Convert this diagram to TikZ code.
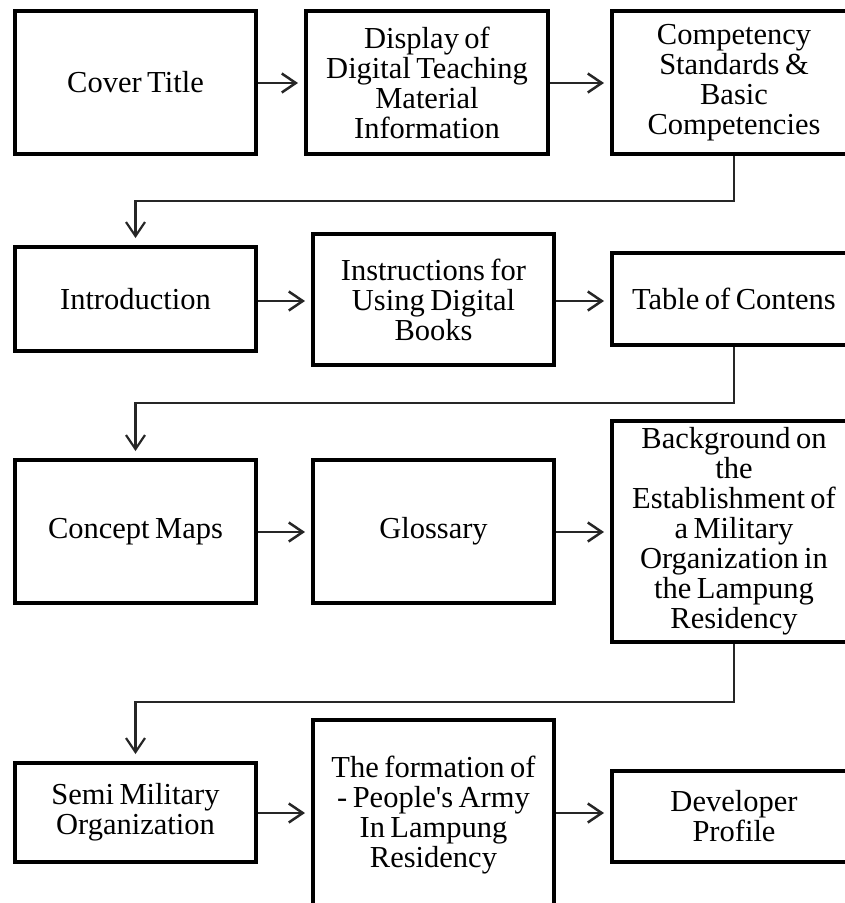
\documentclass[tikz,border=0pt]{standalone}
\usepackage{fontspec}
\setmainfont{Liberation Serif}
\newfontfamily\noligfont{Liberation Serif}
\usetikzlibrary{arrows.meta}
\newcommand\myboxfont{\fontsize{30.5}{30}\selectfont\spaceskip=0.18em plus 0.05em minus 0.05em\relax}
\begin{document}
\begin{tikzpicture}[x=1pt,y=-1pt,
  box/.style={draw=black, line width=4pt, fill=white, inner sep=0pt, align=center,
    font=\myboxfont},
  arr/.style={draw=black!85, line width=2.5pt, -{Straight Barb[length=14pt,width=19pt,line width=2.5pt]}, shorten >=6pt},
  elb/.style={draw=black!85, line width=2.2pt, -{Straight Barb[length=14pt,width=19pt,line width=2.2pt]}, shorten >=7pt}]
\useasboundingbox (0,0) rectangle (845,903);
% row 1
\node[box, minimum width=241pt, minimum height=143pt] (b1) at (135.5,82.5) {Cover Title};
\node[box, minimum width=242pt, minimum height=143pt] (b2) at (427,82.5) {Display of\\Digital Teaching\\Material\\Information};
\node[box, minimum width=244pt, minimum height=143pt] (b3) at (734,82.5) {Competency\\Standards \&\\Basic\\Competencies};
% row 2
\node[box, minimum width=241pt, minimum height=104pt] (b4) at (135.5,299) {Introduction};
\node[box, minimum width=241pt, minimum height=131pt] (b5) at (433.5,299.5) {Instructions for\\Using Digital\\Books};
\node[box, minimum width=244pt, minimum height=92pt] (b6) at (734,299) {Table of Contens};
% row 3
\node[box, minimum width=241pt, minimum height=143pt] (b7) at (135.5,531.5) {Concept Maps};
\node[box, minimum width=241pt, minimum height=143pt] (b8) at (433.5,531.5) {Glossary};
\node[box, minimum width=244pt, minimum height=221pt] (b9) at (734,531.5) {Background on\\the\\Establishment of\\a Military\\Organization in\\the Lampung\\Residency};
% row 4
\node[box, minimum width=241pt, minimum height=99pt] (b10) at (135.5,812.5) {Semi Military\\Organization};
\node[box, minimum width=241pt, minimum height=190pt] (b11) at (433.5,815) {The formation of\\- People{\noligfont'}s Army\\In Lampung\\Residency};
\node[box, minimum width=244pt, minimum height=91pt] (b12) at (734,816.5) {Developer\\Profile};
% connectors
\draw[arr] (b1.east |- 0,83) -- (b2.west |- 0,83);
\draw[arr] (b2.east |- 0,83) -- (b3.west |- 0,83);
\draw[elb] (b3.south) -- ++(0,45) -| (b4.north);
\draw[arr] (b4.east |- 0,301) -- (b5.west |- 0,301);
\draw[arr] (b5.east |- 0,301) -- (b6.west |- 0,301);
\draw[elb] (b6.south) -- ++(0,56) -| (b7.north);
\draw[arr] (b7.east |- 0,532) -- (b8.west |- 0,532);
\draw[arr] (b8.east |- 0,532) -- (b9.west |- 0,532);
\draw[elb] (b9.south) -- ++(0,58) -| (b10.north);
\draw[arr] (b10.east |- 0,813) -- (b11.west |- 0,813);
\draw[arr] (b11.east |- 0,813) -- (b12.west |- 0,813);
\end{tikzpicture}
\end{document}
